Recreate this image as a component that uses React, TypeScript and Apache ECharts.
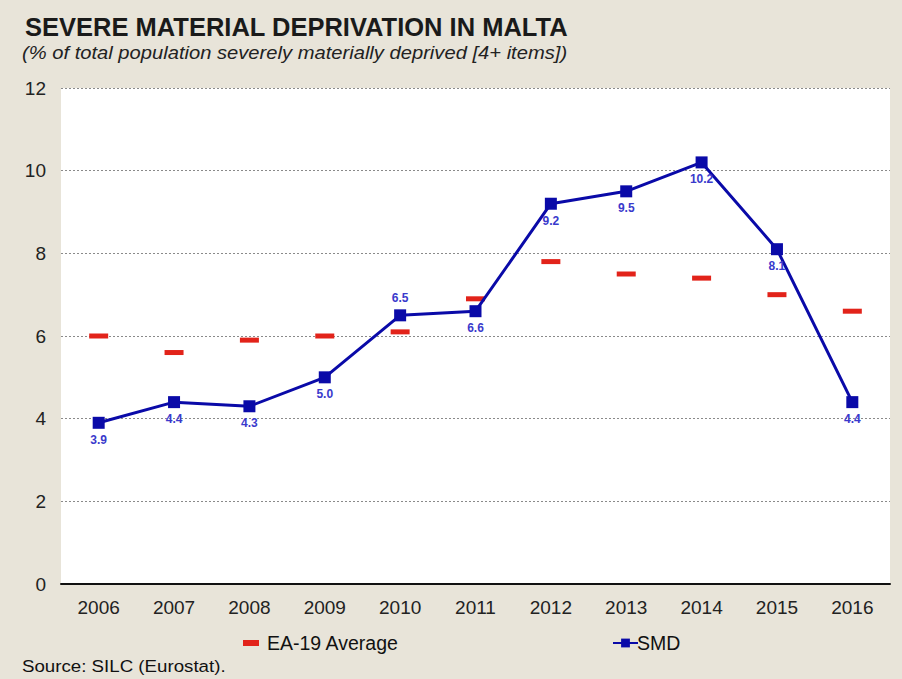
import React, { useEffect, useRef } from "react";
import * as echarts from "echarts";

const years = ["2006", "2007", "2008", "2009", "2010", "2011", "2012", "2013", "2014", "2015", "2016"];
const smd = [3.9, 4.4, 4.3, 5.0, 6.5, 6.6, 9.2, 9.5, 10.2, 8.1, 4.4];
const ea19 = [6.0, 5.6, 5.9, 6.0, 6.1, 6.9, 7.8, 7.5, 7.4, 7.0, 6.6];
const labelAbove = [false, false, false, false, true, false, false, false, false, false, false];

const FONT = "'Liberation Sans', Arial, sans-serif";
const RED = "#e2231a";
const BLUE = "#0a0aa8";

export default function App() {
  const ref = useRef<HTMLDivElement>(null);
  useEffect(() => {
    if (!ref.current) return;
    const chart = echarts.init(ref.current, null, { renderer: "svg" });
    chart.setOption({
      animation: false,
      backgroundColor: "#e8e4d9",
      textStyle: { fontFamily: FONT },
      title: {
        text: "SEVERE MATERIAL DEPRIVATION IN MALTA",
        left: 20,
        top: 9,
        textStyle: { fontFamily: FONT, fontSize: 25.5, fontWeight: "bold", color: "#1a1a1a" },
      },
      graphic: [
        {
          type: "text",
          left: 22,
          top: 44,
          scaleX: 1.12,
          style: {
            text: "(% of total population severely materially deprived [4+ items])",
            font: `italic 18px ${FONT}`,
            fill: "#222",
          },
        },
        {
          type: "text",
          left: 22,
          top: 658,
          scaleX: 1.1,
          style: {
            text: "Source: SILC (Eurostat).",
            font: `17px ${FONT}`,
            fill: "#111",
          },
        },
      ],
      legend: [
        {
          left: 238,
          top: 628,
          itemWidth: 16,
          itemHeight: 6,
          textStyle: { fontFamily: FONT, fontSize: 19.5, color: "#111", padding: [0, 0, 0, 3] },
          data: [{ name: "EA-19 Average", icon: "rect", itemStyle: { color: RED } }],
        },
        {
          left: 607,
          top: 628,
          itemWidth: 25,
          itemHeight: 11,
          textStyle: { fontFamily: FONT, fontSize: 19.5, color: "#111", padding: [0, 0, 0, -6] },
          data: [{ name: "SMD" }],
        },
      ],
      grid: {
        left: 61,
        right: 12,
        top: 88,
        bottom: 95,
        show: true,
        backgroundColor: "#ffffff",
        borderWidth: 0,
      },
      xAxis: {
        type: "category",
        data: years,
        axisLine: { lineStyle: { color: "#111", width: 2 } },
        axisTick: { show: false },
        axisLabel: { fontFamily: FONT, fontSize: 19, color: "#222", margin: 14 },
      },
      yAxis: {
        type: "value",
        min: 0,
        max: 12,
        interval: 2,
        axisLine: { show: false },
        axisTick: { show: false },
        axisLabel: { fontFamily: FONT, fontSize: 19, color: "#222", margin: 15 },
        splitLine: { lineStyle: { color: "#8a8a8a", type: [2, 2], width: 1 } },
      },
      series: [
        {
          name: "EA-19 Average",
          type: "scatter",
          data: ea19,
          symbol: "rect",
          symbolSize: [19, 5],
          itemStyle: { color: RED, opacity: 1 },
          z: 3,
        },
        {
          name: "SMD",
          type: "line",
          data: smd.map((v, i) => ({
            value: v,
            label: { position: labelAbove[i] ? "top" : "bottom" },
          })),
          symbol: "rect",
          symbolSize: 12,
          lineStyle: { color: BLUE, width: 3 },
          itemStyle: { color: BLUE },
          label: {
            show: true,
            position: "bottom",
            distance: 5,
            fontFamily: FONT,
            fontSize: 12,
            fontWeight: "bold",
            color: "#3a3acc",
            formatter: (p: any) => Number(p.value).toFixed(1),
          },
          z: 4,
        },
      ],
    });
    return () => chart.dispose();
  }, []);
  return <div ref={ref} style={{ position: "fixed", left: 0, top: 0, width: 902, height: 679 }} />;
}
